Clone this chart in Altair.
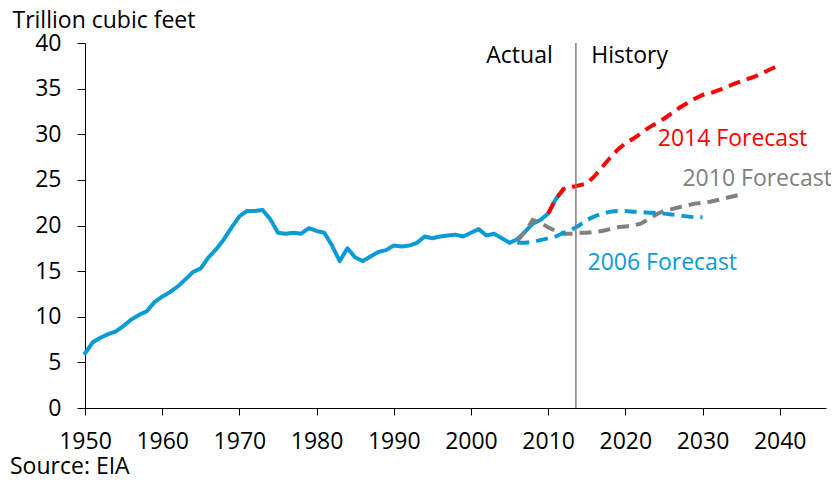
import altair as alt
import pandas as pd

# Historical (actual) dry gas production, trillion cubic feet
hist_years = list(range(1950, 2013))
hist_values = [6.0, 7.2, 7.7, 8.1, 8.4, 9.0, 9.7, 10.2, 10.6, 11.6,
               12.2, 12.7, 13.3, 14.1, 14.9, 15.3, 16.5, 17.4, 18.5, 19.8,
               21.0, 21.6, 21.6, 21.7, 20.7, 19.2, 19.1, 19.2, 19.1, 19.7,
               19.4, 19.2, 17.8, 16.1, 17.5, 16.5, 16.1, 16.6, 17.1, 17.3,
               17.8, 17.7, 17.8, 18.1, 18.8, 18.6, 18.8, 18.9, 19.0, 18.8,
               19.2, 19.6, 18.9, 19.1, 18.6, 18.1, 18.5, 19.3, 20.2, 20.6,
               21.3, 22.9, 24.0]

f2014_years = list(range(2010, 2041))
f2014_values = [21.3, 22.9, 24.0, 24.2, 24.4, 24.6, 25.4, 26.4, 27.4, 28.3,
                29.0, 29.5, 30.1, 30.7, 31.2, 31.7, 32.3, 32.9, 33.4, 33.9,
                34.3, 34.5, 34.8, 35.1, 35.5, 35.8, 36.1, 36.4, 36.8, 37.2,
                37.6]

f2010_years = list(range(2006, 2036))
f2010_values = [18.3, 19.3, 20.6, 20.3, 19.8, 19.4, 19.1, 19.1, 19.2, 19.2,
                19.3, 19.4, 19.6, 19.8, 19.9, 20.0, 20.2, 20.7, 21.2, 21.6,
                21.8, 22.0, 22.2, 22.4, 22.5, 22.6, 22.8, 23.0, 23.2, 23.4]

f2006_years = list(range(2006, 2031))
f2006_values = [18.1, 18.1, 18.2, 18.4, 18.6, 18.8, 19.2, 19.5, 20.0, 20.6,
                21.0, 21.3, 21.5, 21.6, 21.6, 21.5, 21.5, 21.4, 21.4, 21.3,
                21.2, 21.1, 21.0, 20.9, 20.9]

x_ticks = list(range(1950, 2041, 10))
y_ticks = list(range(0, 41, 5))
divider_year = 2013.6

labels = ["2014 Forecast", "2010 Forecast", "2006 Forecast", "Actual", "History"]
label_x = [2024.2, 2027.4, 2015.1, 2010.6, 2015.6]
label_y = [28.7, 24.3, 15.1, 37.8, 37.8]
label_color = ["#FF0000", "#808080", "#0A9BD7", "#000000", "#000000"]
label_align = ["left", "left", "left", "right", "left"]

BLUE = "#0A9BD7"
FONT = "Open Sans"
FS = 23

xscale = alt.Scale(domain=[1950, 2046], nice=False, zero=False)
yscale = alt.Scale(domain=[0, 40], nice=False)

def df(years, values):
    return pd.DataFrame({"year": years, "value": values})

base_x = alt.X("year:Q", scale=xscale,
               axis=alt.Axis(values=x_ticks, format="d", title=None, grid=False,
                             tickSize=7, labelPadding=15, labelFontSize=FS,
                             labelFont=FONT, labelColor="black",
                             domainColor="black", tickColor="black",
                             labelFlush=False))
base_y = alt.Y("value:Q", scale=yscale,
               axis=alt.Axis(values=y_ticks, title="Trillion cubic feet",
                             titleAngle=0, titleAlign="left", titleX=-73,
                             titleY=-16, titleBaseline="alphabetic",
                             titleFont=FONT, titleFontSize=FS,
                             titleFontWeight="normal", titleColor="black",
                             grid=False, tickSize=8, labelPadding=16,
                             labelFontSize=FS, labelFont=FONT,
                             labelColor="black", domainColor="black",
                             tickColor="black"))

hist = alt.Chart(df(hist_years, hist_values)).mark_line(
    color=BLUE, strokeWidth=4, strokeJoin="round", strokeCap="round"
).encode(x=base_x, y=base_y)

def dashed(years, values, color):
    return alt.Chart(df(years, values)).mark_line(
        color=color, strokeWidth=4, strokeDash=[12, 7], strokeCap="butt"
    ).encode(x="year:Q", y="value:Q")

g2010 = dashed(f2010_years, f2010_values, "#808080")
b2006 = dashed(f2006_years, f2006_values, BLUE)
r2014 = dashed(f2014_years, f2014_values, "#FF0000")

rule = alt.Chart(pd.DataFrame({"year": [divider_year]})).mark_rule(
    color="#808080", strokeWidth=1.5
).encode(x="year:Q")

lab_df = pd.DataFrame({"t": labels, "year": label_x, "value": label_y,
                       "c": label_color, "a": label_align})
left_lab = alt.Chart(lab_df[lab_df.a == "left"]).mark_text(
    align="left", baseline="alphabetic", font=FONT, fontSize=FS
).encode(x="year:Q", y="value:Q", text="t:N",
         color=alt.Color("c:N", scale=None))
right_lab = alt.Chart(lab_df[lab_df.a == "right"]).mark_text(
    align="right", baseline="alphabetic", font=FONT, fontSize=FS
).encode(x="year:Q", y="value:Q", text="t:N",
         color=alt.Color("c:N", scale=None))

source = alt.Chart(pd.DataFrame({"t": ["Source: EIA"]})).mark_text(
    align="left", baseline="alphabetic", font=FONT, fontSize=FS, color="black"
).encode(x=alt.value(-75), y=alt.value(431), text="t:N")

chart = alt.layer(hist, g2010, b2006, r2014, rule, left_lab, right_lab, source).properties(
    width=741, height=365,
    autosize=alt.AutoSizeParams(type="none"),
    padding={"left": 77, "top": 35, "right": 5, "bottom": 71},
    background="white",
).configure_view(stroke=None)

chart.save("out.html", embed_options={"renderer": "svg", "actions": False})
